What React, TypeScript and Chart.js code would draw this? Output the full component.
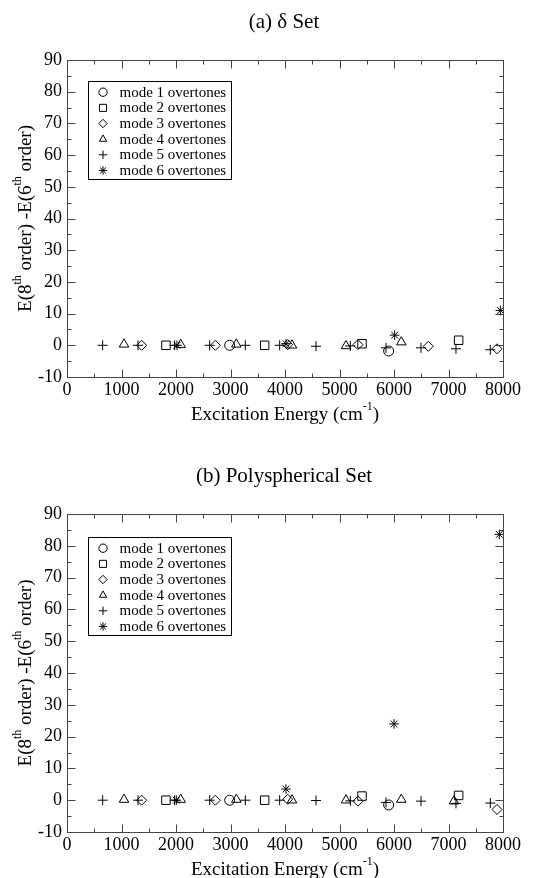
import React, { useEffect, useRef } from 'react';
import { Chart, registerables } from 'chart.js';

Chart.register(...registerables);

// ---------- data ----------
const MODE_LABELS = [
  'mode 1 overtones',
  'mode 2 overtones',
  'mode 3 overtones',
  'mode 4 overtones',
  'mode 5 overtones',
  'mode 6 overtones',
];
const POINT_STYLES = ['circle', 'rect', 'rectRot', 'triangle', 'cross', 'star'];
const POINT_RADII = [5, 6, 5, 5.5, 5, 4.8];

const X_TICK_MIN = 0;
const X_TICK_MAX = 8000;
const Y_TICK_MIN = -10;
const Y_TICK_MAX = 90;

// Panel (a) δ Set
const A_MODE1_X = [2985, 5902];
const A_MODE1_Y = [0, -1.8];
const A_MODE2_X = [1816, 3627, 5413, 7186];
const A_MODE2_Y = [0, 0, 0.5, 1.6];
const A_MODE3_X = [1370, 2722, 4049, 5339, 6630, 7890];
const A_MODE3_Y = [0, 0, 0.2, 0.2, -0.3, -1.1];
const A_MODE4_X = [1046, 2086, 3107, 4128, 5119, 6134];
const A_MODE4_Y = [0.3, 0.2, 0.3, 0, -0.2, 1.0];
const A_MODE5_X = [654, 1303, 1975, 2618, 3272, 3902, 4569, 5199, 5853, 6495, 7137, 7767];
const A_MODE5_Y = [0, 0, 0, 0, 0, 0, -0.3, -0.2, -0.8, -0.8, -1.1, -1.4];
const A_MODE6_X = [2018, 4018, 6012, 7951];
const A_MODE6_Y = [0, 0.5, 3.2, 11.0];

// Panel (b) Polyspherical Set
const B_MODE1_X = [2985, 5902];
const B_MODE1_Y = [0, -1.5];
const B_MODE2_X = [1816, 3627, 5413, 7186];
const B_MODE2_Y = [0, 0, 1.3, 1.5];
const B_MODE3_X = [1370, 2722, 4049, 5339, 7890];
const B_MODE3_Y = [0, 0, 0.3, -0.3, -2.9];
const B_MODE4_X = [1046, 2086, 3107, 4128, 5119, 6134, 7100];
const B_MODE4_Y = [0.2, 0.2, 0.2, 0, 0, 0.2, -0.3];
const B_MODE5_X = [654, 1303, 1975, 2618, 3272, 3902, 4569, 5199, 5853, 6495, 7137, 7767];
const B_MODE5_Y = [0, 0, 0, 0, 0, 0, -0.1, -0.2, -0.7, -0.3, -1.0, -0.9];
const B_MODE6_X = [2006, 4018, 6000, 7933];
const B_MODE6_Y = [0, 3.5, 24.0, 83.6];

const PANEL_A_SERIES = [
  [A_MODE1_X, A_MODE1_Y],
  [A_MODE2_X, A_MODE2_Y],
  [A_MODE3_X, A_MODE3_Y],
  [A_MODE4_X, A_MODE4_Y],
  [A_MODE5_X, A_MODE5_Y],
  [A_MODE6_X, A_MODE6_Y],
];
const PANEL_B_SERIES = [
  [B_MODE1_X, B_MODE1_Y],
  [B_MODE2_X, B_MODE2_Y],
  [B_MODE3_X, B_MODE3_Y],
  [B_MODE4_X, B_MODE4_Y],
  [B_MODE5_X, B_MODE5_Y],
  [B_MODE6_X, B_MODE6_Y],
];

const FONT = 'Liberation Serif';
const W = 545;
const H = 439;

type Part = { t: string; sup?: boolean };

const Y_TITLE: Part[] = [
  { t: 'E(8' },
  { t: 'th', sup: true },
  { t: ' order) -E(6' },
  { t: 'th', sup: true },
  { t: ' order)' },
];
const X_TITLE: Part[] = [{ t: 'Excitation Energy (cm' }, { t: '-1', sup: true }, { t: ')' }];

function drawRich(ctx: CanvasRenderingContext2D, parts: Part[], cx: number, cy: number, fs: number) {
  const sfs = Math.round(fs * 0.62);
  let total = 0;
  const widths = parts.map((p) => {
    ctx.font = `${p.sup ? sfs : fs}px "${FONT}"`;
    const w = ctx.measureText(p.t).width;
    total += w;
    return w;
  });
  let x = cx - total / 2;
  ctx.textAlign = 'left';
  ctx.textBaseline = 'middle';
  parts.forEach((p, i) => {
    ctx.font = `${p.sup ? sfs : fs}px "${FONT}"`;
    ctx.fillText(p.t, x, p.sup ? cy - fs * 0.42 : cy);
    x += widths[i];
  });
}

function drawMarker(ctx: CanvasRenderingContext2D, style: string, x: number, y: number, r: number) {
  ctx.beginPath();
  if (style === 'circle') {
    ctx.arc(x, y, r, 0, Math.PI * 2);
  } else if (style === 'rect') {
    const s = Math.SQRT1_2 * r;
    ctx.rect(x - s, y - s, 2 * s, 2 * s);
  } else if (style === 'rectRot') {
    ctx.moveTo(x - r, y);
    ctx.lineTo(x, y - r);
    ctx.lineTo(x + r, y);
    ctx.lineTo(x, y + r);
    ctx.closePath();
  } else if (style === 'triangle') {
    let a = 0;
    ctx.moveTo(x + Math.sin(a) * r, y - Math.cos(a) * r);
    a += (2 * Math.PI) / 3;
    ctx.lineTo(x + Math.sin(a) * r, y - Math.cos(a) * r);
    a += (2 * Math.PI) / 3;
    ctx.lineTo(x + Math.sin(a) * r, y - Math.cos(a) * r);
    ctx.closePath();
  } else if (style === 'cross') {
    ctx.moveTo(x, y - r);
    ctx.lineTo(x, y + r);
    ctx.moveTo(x - r, y);
    ctx.lineTo(x + r, y);
  } else if (style === 'star') {
    ctx.moveTo(x, y - r);
    ctx.lineTo(x, y + r);
    ctx.moveTo(x - r, y);
    ctx.lineTo(x + r, y);
    const d = r * Math.SQRT1_2;
    ctx.moveTo(x - d, y - d);
    ctx.lineTo(x + d, y + d);
    ctx.moveTo(x - d, y + d);
    ctx.lineTo(x + d, y - d);
  }
  ctx.stroke();
}

function makePlugin(title: string, legendOffset: number) {
  return {
    id: 'xmgraceFrame',
    beforeDatasetsDraw(chart: any) {
      const { ctx, chartArea: a, scales } = chart;
      ctx.save();
      ctx.strokeStyle = '#444';
      ctx.lineWidth = 1;
      const L = Math.round(a.left) + 0.5;
      const R = Math.round(a.right) + 0.5;
      const T = Math.round(a.top) + 0.5;
      const B = Math.round(a.bottom) + 0.5;
      ctx.strokeRect(L, T, R - L, B - T);
      ctx.beginPath();
      for (let v = X_TICK_MIN; v <= X_TICK_MAX; v += 500) {
        const px = Math.round(scales.x.getPixelForValue(v)) + 0.5;
        const len = v % 1000 === 0 ? 8 : 4;
        ctx.moveTo(px, B);
        ctx.lineTo(px, B - len);
        ctx.moveTo(px, T);
        ctx.lineTo(px, T + len);
      }
      for (let v = Y_TICK_MIN; v <= Y_TICK_MAX; v += 5) {
        const py = Math.round(scales.y.getPixelForValue(v)) + 0.5;
        const len = v % 10 === 0 ? 8 : 4;
        ctx.moveTo(L, py);
        ctx.lineTo(L + len, py);
        ctx.moveTo(R, py);
        ctx.lineTo(R - len, py);
      }
      ctx.stroke();
      ctx.restore();
    },
    afterDraw(chart: any) {
      const { ctx, chartArea: a } = chart;
      ctx.save();
      ctx.fillStyle = '#000';
      const cx = (a.left + a.right) / 2;
      // title
      ctx.font = `21px "${FONT}"`;
      ctx.textAlign = 'center';
      ctx.textBaseline = 'middle';
      ctx.fillText(title, cx - 1, a.top - 38);
      // x title
      drawRich(ctx, X_TITLE, cx, a.bottom + 38, 19);
      // y title
      ctx.save();
      ctx.translate(26, (a.top + a.bottom) / 2);
      ctx.rotate(-Math.PI / 2);
      drawRich(ctx, Y_TITLE, 0, 0, 19);
      ctx.restore();
      // legend
      const bx = Math.round(a.left + 21) + 0.5;
      const by = Math.round(a.top + legendOffset) + 0.5;
      const bw = 143;
      const bh = 98;
      ctx.strokeStyle = '#000';
      ctx.lineWidth = 1;
      ctx.strokeRect(bx, by, bw, bh);
      ctx.font = `15px "${FONT}"`;
      ctx.textAlign = 'left';
      ctx.textBaseline = 'middle';
      MODE_LABELS.forEach((lab, i) => {
        const ry = by + 10.7 + i * 15.65;
        drawMarker(ctx, POINT_STYLES[i], bx + 14.5, ry, i === 1 ? 5 : 4.2);
        ctx.fillText(lab, bx + 31, ry + 0.5);
      });
      ctx.restore();
    },
  };
}

type PanelProps = {
  title: string;
  series: number[][][];
  top: number;
  bottom: number;
  legendOffset: number;
};

function Panel({ title, series, top, bottom, legendOffset }: PanelProps) {
  const ref = useRef<HTMLCanvasElement | null>(null);
  useEffect(() => {
    if (!ref.current) return;
    const tickFont = { family: FONT, size: 18 };
    const chart = new Chart(ref.current, {
      type: 'scatter',
      data: {
        datasets: series.map(([xs, ys], i) => ({
          label: MODE_LABELS[i],
          data: xs.map((x, j) => ({ x, y: ys[j] })),
          pointStyle: POINT_STYLES[i] as any,
          pointRadius: POINT_RADII[i],
          pointHoverRadius: POINT_RADII[i],
          borderColor: '#000',
          backgroundColor: 'rgba(0,0,0,0)',
          borderWidth: 1,
          showLine: false,
        })),
      },
      options: {
        responsive: false,
        animation: false,
        devicePixelRatio: 1,
        events: [],
        layout: { padding: { top, right: 42, left: 0, bottom: 0 } },
        plugins: {
          legend: { display: false },
          title: { display: false },
          tooltip: { enabled: false },
        },
        scales: {
          x: {
            type: 'linear',
            min: X_TICK_MIN,
            max: X_TICK_MAX,
            grid: { display: false, drawTicks: false },
            border: { display: false },
            ticks: {
              stepSize: 1000,
              color: '#000',
              font: tickFont,
              padding: 2,
              maxRotation: 0,
              autoSkip: false,
              callback: (v: any) => String(v),
            },
            afterFit: (s: any) => {
              s.height = H - bottom;
            },
          },
          y: {
            type: 'linear',
            min: Y_TICK_MIN,
            max: Y_TICK_MAX,
            grid: { display: false, drawTicks: false },
            border: { display: false },
            ticks: {
              stepSize: 10,
              color: '#000',
              font: tickFont,
              padding: 5,
              autoSkip: false,
              callback: (v: any) => String(v),
            },
            afterFit: (s: any) => {
              s.width = 67;
            },
          },
        },
      } as any,
      plugins: [makePlugin(title, legendOffset)],
    });
    return () => chart.destroy();
  }, [title, series, top, bottom, legendOffset]);
  return <canvas ref={ref} width={W} height={H} style={{ display: 'block', width: W, height: H }} />;
}

export default function App() {
  return (
    <div style={{ position: 'absolute', left: 0, top: 0, width: W, height: 2 * H, background: '#fff' }}>
      <Panel title="(a) δ Set" series={PANEL_A_SERIES} top={60} bottom={377} legendOffset={21} />
      <Panel title="(b) Polyspherical Set" series={PANEL_B_SERIES} top={75} bottom={393} legendOffset={22.5} />
    </div>
  );
}
